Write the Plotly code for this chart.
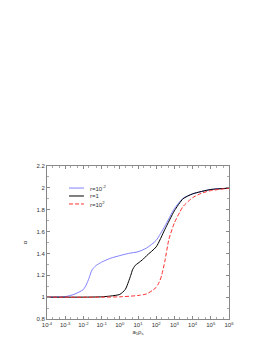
import plotly.graph_objects as go

# r = 10^-2
x_blue = [1e-4, 1e-3, 3e-3, 1e-2, 1.5e-2, 2e-2, 3e-2, 5e-2, 1e-1, 3e-1, 1, 3, 10, 30, 100, 300, 1e3, 3e3, 1e4, 1e5, 1e6]
a_blue = [1.0, 1.005, 1.025, 1.07, 1.12, 1.17, 1.25, 1.29, 1.32, 1.355, 1.38, 1.40, 1.415, 1.45, 1.52, 1.65, 1.81, 1.905, 1.945, 1.985, 1.997]
# r = 1
x_black = [1e-4, 1e-2, 1e-1, 3e-1, 1, 2, 3, 4, 5, 7, 10, 20, 30, 100, 300, 1e3, 3e3, 1e4, 1e5, 1e6]
a_black = [1.0, 1.0, 1.003, 1.01, 1.025, 1.07, 1.14, 1.2, 1.25, 1.29, 1.31, 1.35, 1.38, 1.46, 1.62, 1.79, 1.9, 1.945, 1.985, 1.997]
# r = 10^2
x_red = [1e-4, 1e-1, 1, 10, 30, 60, 100, 150, 200, 300, 500, 1e3, 2e3, 3e3, 1e4, 3e4, 1e5, 1e6]
a_red = [1.0, 1.0, 1.003, 1.015, 1.03, 1.06, 1.09, 1.14, 1.2, 1.33, 1.53, 1.68, 1.78, 1.83, 1.91, 1.95, 1.975, 1.996]

names = ["r=10<sup>-2</sup>", "r=1", "r=10<sup>2</sup>"]
colors = ["#8080ff", "#000000", "#ff3030"]
dashes = ["solid", "solid", "4px,2px"]

x_tickvals = [1e-4, 1e-3, 1e-2, 1e-1, 1, 10, 100, 1e3, 1e4, 1e5, 1e6]
x_ticktext = ["10<sup>-4</sup>", "10<sup>-3</sup>", "10<sup>-2</sup>", "10<sup>-1</sup>", "10<sup>0</sup>",
              "10<sup>1</sup>", "10<sup>2</sup>", "10<sup>3</sup>", "10<sup>4</sup>", "10<sup>5</sup>", "10<sup>6</sup>"]
y_ticks = [0.8, 1, 1.2, 1.4, 1.6, 1.8, 2, 2.2]
y_ticktext = ["0.8", "1", "1.2", "1.4", "1.6", "1.8", "2", "2.2"]

fig = go.Figure()
for xs, ys, nm, c, d in [(x_blue, a_blue, names[0], colors[0], dashes[0]),
                          (x_black, a_black, names[1], colors[1], dashes[1]),
                          (x_red, a_red, names[2], colors[2], dashes[2])]:
    fig.add_trace(go.Scatter(x=xs, y=ys, mode="lines", name=nm, showlegend=False,
                             line=dict(color=c, width=1, dash=d, shape="spline", smoothing=0.6)))

axis_common = dict(showgrid=False, zeroline=False, showline=True, linecolor="#888",
                   linewidth=1, mirror="ticks", ticks="inside", ticklen=3, tickcolor="#888",
                   automargin=False,
                   tickfont=dict(size=6, color="#333", family="Liberation Sans"))

fig.update_xaxes(type="log", range=[-4, 6], tickvals=x_tickvals, ticktext=x_ticktext,
                 minor=dict(ticks="inside", ticklen=2, tickcolor="#aaa"),
                 title=dict(text="a<sub>1</sub>ρ<sub>s</sub>", font=dict(size=6, color="#333"), standoff=2),
                 **axis_common)
fig.update_yaxes(range=[0.8, 2.2], tickvals=y_ticks, ticktext=y_ticktext,
                 minor=dict(ticks="inside", ticklen=2, tickcolor="#aaa", dtick=0.1),
                 title=dict(text="α", font=dict(size=6, color="#333"), standoff=8),
                 **axis_common)

# manual compact legend
leg_y = [0.856, 0.804, 0.752]
for nm, c, d, yy in zip(names, colors, dashes, leg_y):
    fig.add_shape(type="line", xref="paper", yref="paper", x0=0.121, x1=0.203, y0=yy, y1=yy,
                  line=dict(color=c, width=1, dash=d))
    fig.add_annotation(xref="paper", yref="paper", x=0.225, y=yy, text=nm, showarrow=False,
                       xanchor="left", yanchor="middle", font=dict(size=6, color="#333"))

fig.update_layout(
    width=270, height=352,
    margin=dict(l=39, r=49, t=158, b=41),
    paper_bgcolor="white", plot_bgcolor="white",
    font=dict(family="Liberation Sans", size=6, color="#333"),
    showlegend=False,
)

fig.write_html("out.html")
